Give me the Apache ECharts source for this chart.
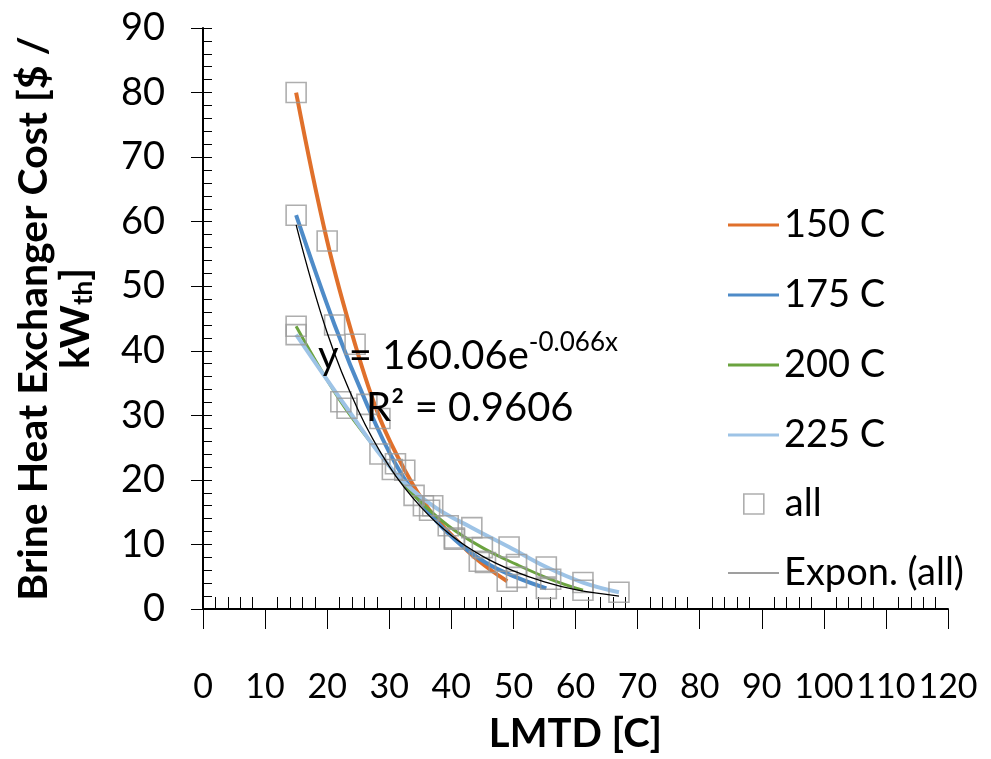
<!DOCTYPE html>
<html>
<head>
<meta charset="utf-8">
<script src="https://cdn.jsdelivr.net/npm/echarts@6/dist/echarts.min.js"></script>
<style>
html,body{margin:0;padding:0;background:#fff;}
#c{width:991px;height:759px;}
</style>
</head>
<body>
<div id="c"></div>
<script>
// ---- data ----
const x150 = [15, 20, 24.5, 28.5, 32.5, 36.5, 40.5, 44.5, 49];
const y150 = [80, 57, 41, 29.5, 21.5, 15.3, 11, 7.4, 4.3];
const x175 = [15, 21.2, 26.4, 31, 35.5, 40.5, 45.5, 50.5, 55.3];
const y175 = [61, 44, 31.7, 22.5, 16, 10.8, 7.2, 4.9, 3.2];
const x200 = [15, 22.2, 28.5, 34, 39.5, 45, 50.5, 56, 61.2];
const y200 = [43.8, 32.1, 24, 17.6, 12.9, 9.5, 6.9, 4.6, 2.9];
const x225 = [15, 23.2, 30.5, 37, 43.3, 49.3, 55.3, 61.2, 67];
const y225 = [42.5, 31.1, 21.6, 16.0, 12.6, 9.6, 6.5, 4.1, 2.6];
// exponential trendline, points
const xTrend = [15, 20, 25, 30, 35, 40, 45, 50, 55, 60, 67];
const yTrend = [59.5, 42.8, 30.8, 22.1, 15.9, 11.4, 8.2, 5.9, 4.2, 3.0, 2.0];
const seriesNames = ['150 C', '175 C', '200 C', '225 C', 'all', 'Expon. (all)'];
const xTicks = {min: 0, max: 120, interval: 10};
const yTicks = {min: 0, max: 90, interval: 10};

const zip = (xs, ys) => xs.map((x, i) => [x, ys[i]]);
const allPts = [].concat(zip(x150, y150), zip(x175, y175), zip(x200, y200), zip(x225, y225));

const FONT = 'Lato';
const chart = echarts.init(document.getElementById('c'), null, {renderer: 'canvas'});

function lineSeries(name, data, color, width, z) {
  return {
    name: name, type: 'line', data: data, smooth: 0.4, symbol: 'none', showSymbol: false,
    lineStyle: {color: color, width: width}, itemStyle: {color: color},
    z: z, animation: false, xAxisIndex: 0, yAxisIndex: 0
  };
}
const legendText = {fontFamily: FONT, fontSize: 38, color: '#000'};

const option = {
  animation: false,
  backgroundColor: '#ffffff',
  textStyle: {fontFamily: FONT},
  grid: {left: 203, right: 43, top: 28, bottom: 143, containLabel: false},
  legend: [{
    orient: 'vertical', left: 723, top: 201, itemWidth: 51, itemHeight: 3, itemGap: 32,
    icon: 'rect', textStyle: legendText,
    data: seriesNames.slice(0, 4)
  }, {
    orient: 'vertical', left: 738, top: 480, itemWidth: 20, itemHeight: 20,
    icon: 'rect', textStyle: Object.assign({padding: [0, 0, 0, 16]}, legendText),
    itemStyle: {color: 'rgba(255,255,255,0)', borderColor: '#9A9A9A', borderWidth: 1.6},
    data: [seriesNames[4]]
  }, {
    orient: 'vertical', left: 723, top: 549, itemWidth: 51, itemHeight: 1.5,
    icon: 'rect', textStyle: legendText,
    itemStyle: {color: '#7F7F7F'},
    data: [seriesNames[5]]
  }],
  xAxis: [{
    type: 'value', min: xTicks.min, max: xTicks.max, interval: xTicks.interval,
    name: 'LMTD [C]', nameLocation: 'middle', nameGap: 105,
    nameTextStyle: {fontFamily: FONT, fontSize: 40, fontWeight: 'bold', color: '#000'},
    axisLine: {show: true, lineStyle: {color: '#000', width: 2}},
    axisTick: {show: true, length: 20, lineStyle: {color: '#000', width: 1}},
    axisLabel: {fontFamily: FONT, fontSize: 34, color: '#000', margin: 61, showMaxLabel: true, showMinLabel: true, hideOverlap: false},
    splitLine: {show: false}
  }, {
    type: 'value', min: xTicks.min, max: xTicks.max, interval: xTicks.interval, position: 'bottom',
    axisLine: {show: false}, axisLabel: {show: false}, splitLine: {show: false},
    axisTick: {show: false, inside: true},
    minorTick: {show: true, splitNumber: 5, length: 12, lineStyle: {color: '#000', width: 1}}
  }],
  yAxis: [{
    type: 'value', min: yTicks.min, max: yTicks.max, interval: yTicks.interval,
    name: '{t|Brine Heat Exchanger Cost [$ /}\n{t|kW}{sub|th}{t|]}',
    nameLocation: 'middle', nameGap: 106, nameRotate: 90,
    nameTextStyle: {
      fontFamily: FONT, fontWeight: 'bold', color: '#000', fontSize: 41, align: 'center',
      rich: {
        t: {fontFamily: FONT, fontSize: 41, fontWeight: 'bold', color: '#000', lineHeight: 42},
        sub: {fontFamily: FONT, fontSize: 26, fontWeight: 'bold', color: '#000', lineHeight: 42, verticalAlign: 'bottom', padding: [18, 0, 0, 0]}
      }
    },
    axisLine: {show: true, lineStyle: {color: '#000', width: 2}},
    axisTick: {show: true, length: 12, lineStyle: {color: '#000', width: 1}},
    axisLabel: {fontFamily: FONT, fontSize: 38, color: '#000', margin: 38, showMaxLabel: true, showMinLabel: true},
    splitLine: {show: false}
  }, {
    type: 'value', min: yTicks.min, max: yTicks.max, interval: yTicks.interval, position: 'left',
    axisLine: {show: false}, axisLabel: {show: false}, splitLine: {show: false},
    axisTick: {show: true, inside: true, length: 9, lineStyle: {color: '#000', width: 1}},
    minorTick: {show: true, splitNumber: 5, length: 9, lineStyle: {color: '#000', width: 1}}
  }],
  series: [
    lineSeries(seriesNames[0], zip(x150, y150), '#E0702B', 4, 3),
    lineSeries(seriesNames[1], zip(x175, y175), '#4E8BC8', 4, 3),
    lineSeries(seriesNames[2], zip(x200, y200), '#6BA33F', 3, 3),
    lineSeries(seriesNames[3], zip(x225, y225), '#9DC3E6', 4, 3),
    {
      name: seriesNames[4], type: 'scatter', data: allPts, symbol: 'rect', symbolSize: 20,
      itemStyle: {color: 'rgba(255,255,255,0)', borderColor: '#9A9A9A', borderWidth: 1.6},
      z: 4, xAxisIndex: 0, yAxisIndex: 0
    },
    lineSeries(seriesNames[5], zip(xTrend, yTrend), '#000000', 1.3, 5)
  ],
  graphic: [{
    type: 'text', left: 318, top: 330, z: 10,
    style: {
      text: '{a|y = 160.06e}{s|-0.066x}',
      rich: {
        a: {fontFamily: FONT, fontSize: 40, fill: '#000', lineHeight: 46, verticalAlign: 'bottom'},
        s: {fontFamily: FONT, fontSize: 26, fill: '#000', lineHeight: 46, verticalAlign: 'top'}
      }
    }
  }, {
    type: 'text', left: 366, top: 388, z: 10,
    style: {text: 'R\u00b2 = 0.9606', fontFamily: FONT, fontSize: 40, fill: '#000'}
  }]
};
chart.setOption(option);
</script>
</body>
</html>
